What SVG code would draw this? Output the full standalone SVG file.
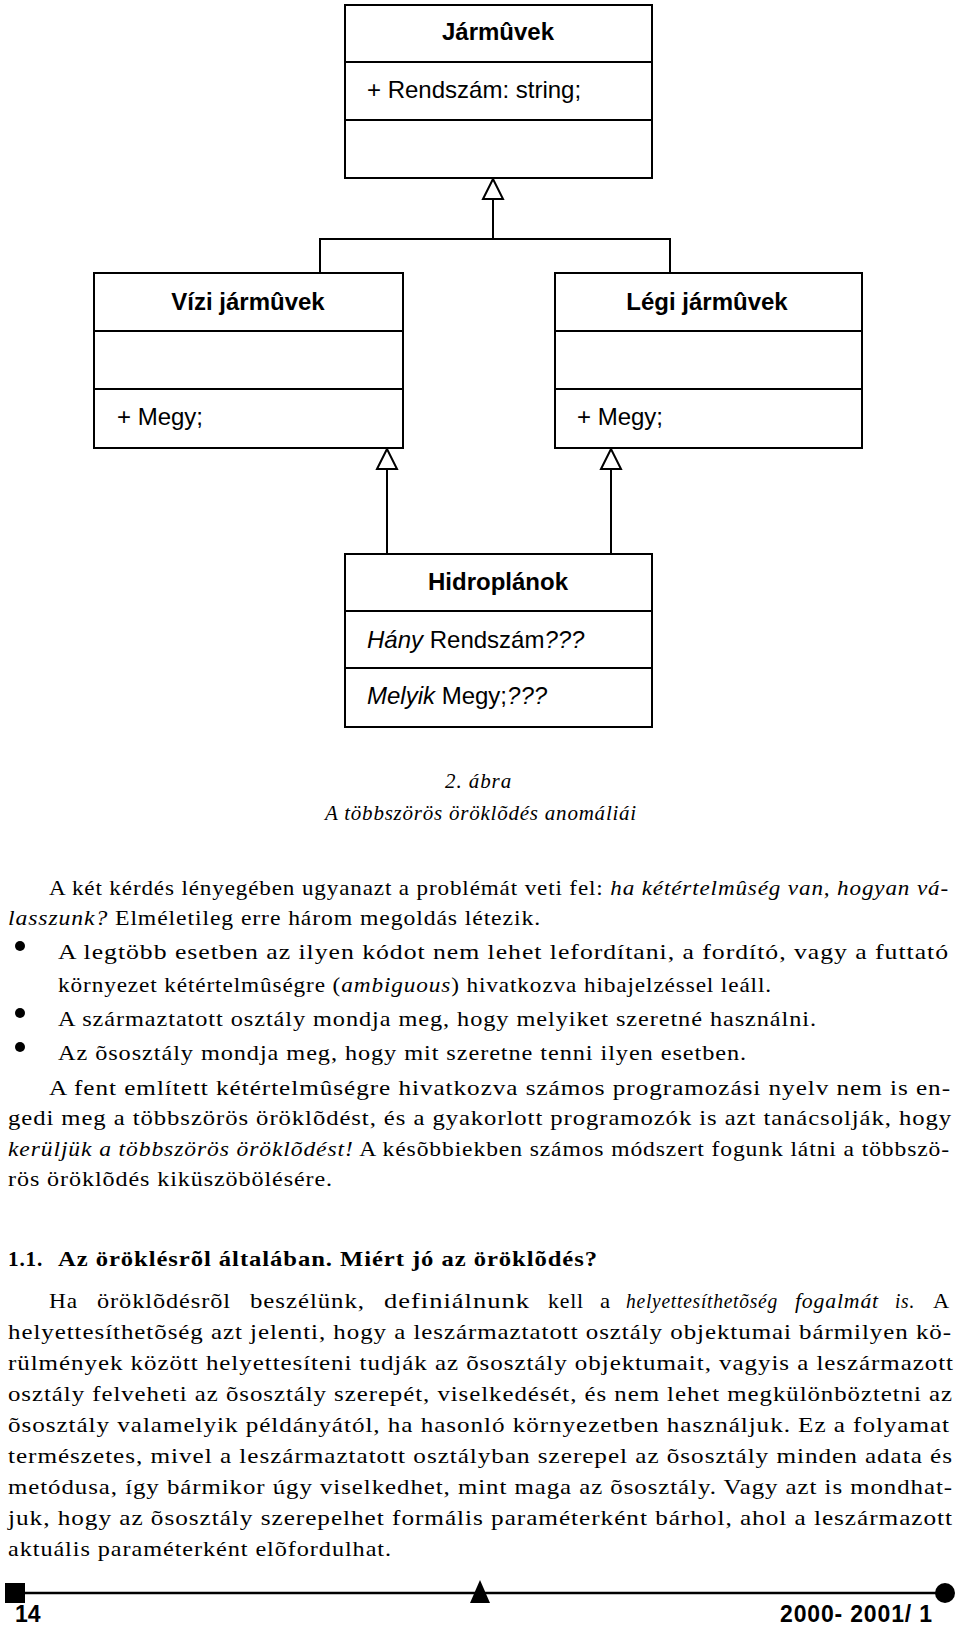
<svg xmlns="http://www.w3.org/2000/svg" width="960" height="1627" viewBox="0 0 960 1627">
<style>
.box{fill:#fff;stroke:#000;stroke-width:2}
.sep{stroke:#000;stroke-width:2}
.t{font-family:"Liberation Sans",Arial,sans-serif;font-size:24px;fill:#000}
.b{font-weight:bold}
.i{font-style:italic}
.con{fill:none;stroke:#000;stroke-width:2}
.body{font-family:"Liberation Serif","Times New Roman",serif;font-size:21px;letter-spacing:0.8px;fill:#000}
.foot{font-family:"Liberation Sans",Arial,sans-serif;font-size:23px;font-weight:bold;fill:#000}
</style>
<defs>
<marker id="inh" markerUnits="userSpaceOnUse" viewBox="-2 -2 24 24" markerWidth="24" markerHeight="24" refX="20" refY="10" orient="auto" overflow="visible">
<path d="M0,0 L20,10 L0,20 Z" fill="#fff" stroke="#000" stroke-width="2"/>
</marker>
</defs>
<rect width="960" height="1627" fill="#fff"/>

<g id="connectors">
<path class="con" d="M320,273 V239 H670 V273"/>
<path class="con" d="M493,239 V179" marker-end="url(#inh)"/>
<path class="con" d="M387,554 V449" marker-end="url(#inh)"/>
<path class="con" d="M611,554 V449" marker-end="url(#inh)"/>
</g>

<g id="jarmuvek">
<rect class="box" x="345" y="5" width="307" height="173"/>
<line class="sep" x1="345" y1="62" x2="652" y2="62"/>
<line class="sep" x1="345" y1="120" x2="652" y2="120"/>
<text class="t b" x="498" y="40" text-anchor="middle">Jármûvek</text>
<text class="t" x="367" y="98">+ Rendszám: string;</text>
</g>

<g id="vizi">
<rect class="box" x="94" y="273" width="309" height="175"/>
<line class="sep" x1="94" y1="331" x2="403" y2="331"/>
<line class="sep" x1="94" y1="389" x2="403" y2="389"/>
<text class="t b" x="248" y="310" text-anchor="middle">Vízi jármûvek</text>
<text class="t" x="117" y="425">+ Megy;</text>
</g>

<g id="legi">
<rect class="box" x="555" y="273" width="307" height="175"/>
<line class="sep" x1="555" y1="331" x2="862" y2="331"/>
<line class="sep" x1="555" y1="389" x2="862" y2="389"/>
<text class="t b" x="707" y="310" text-anchor="middle">Légi jármûvek</text>
<text class="t" x="577" y="425">+ Megy;</text>
</g>

<g id="hidroplanok">
<rect class="box" x="345" y="554" width="307" height="173"/>
<line class="sep" x1="345" y1="611" x2="652" y2="611"/>
<line class="sep" x1="345" y1="668" x2="652" y2="668"/>
<text class="t b" x="498" y="590" text-anchor="middle">Hidroplánok</text>
<text class="t" x="367" y="648"><tspan class="i">Hány</tspan> Rendszám<tspan class="i">???</tspan></text>
<text class="t" x="367" y="704"><tspan class="i">Melyik</tspan> Megy;<tspan class="i">???</tspan></text>
</g>

<g id="caption">
<text class="body i" x="445" y="788" textLength="67" lengthAdjust="spacing">2. ábra</text>
<text class="body i" x="325" y="820" textLength="312" lengthAdjust="spacing">A  többszörös öröklõdés anomáliái</text>
</g>

<g id="text">
<text class="body" x="49" y="895" textLength="900" lengthAdjust="spacingAndGlyphs">A két kérdés lényegében ugyanazt a problémát veti fel: <tspan class="i">ha kétértelmûség van, hogyan vá-</tspan></text>
<text class="body" x="8" y="925" textLength="533" lengthAdjust="spacingAndGlyphs"><tspan class="i">lasszunk?</tspan> Elméletileg erre három megoldás létezik.</text>
<circle cx="20" cy="946" r="5"/>
<text class="body" x="58" y="959" textLength="891" lengthAdjust="spacingAndGlyphs">A legtöbb esetben az ilyen kódot nem lehet lefordítani, a fordító, vagy a futtató</text>
<text class="body" x="58" y="992" textLength="714" lengthAdjust="spacingAndGlyphs">környezet kétértelmûségre (<tspan class="i">ambiguous</tspan>) hivatkozva hibajelzéssel leáll.</text>
<circle cx="20" cy="1013" r="5"/>
<text class="body" x="58" y="1026" textLength="759" lengthAdjust="spacingAndGlyphs">A származtatott osztály mondja meg, hogy melyiket szeretné használni.</text>
<circle cx="20" cy="1047" r="5"/>
<text class="body" x="58" y="1060" textLength="689" lengthAdjust="spacingAndGlyphs">Az õsosztály mondja meg, hogy mit szeretne tenni ilyen esetben.</text>
<text class="body" x="49" y="1095" textLength="902" lengthAdjust="spacingAndGlyphs">A fent említett kétértelmûségre hivatkozva számos programozási nyelv nem is en-</text>
<text class="body" x="8" y="1125" textLength="944" lengthAdjust="spacingAndGlyphs">gedi meg a többszörös öröklõdést, és a gyakorlott programozók is azt tanácsolják, hogy</text>
<text class="body" x="8" y="1156" textLength="942" lengthAdjust="spacingAndGlyphs"><tspan class="i">kerüljük a többszörös öröklõdést!</tspan> A késõbbiekben számos módszert fogunk látni a többszö-</text>
<text class="body" x="8" y="1186" textLength="325" lengthAdjust="spacingAndGlyphs">rös öröklõdés kiküszöbölésére.</text>

<text class="body b" x="8" y="1266" textLength="35" lengthAdjust="spacingAndGlyphs">1.1.</text>
<text class="body b" x="58" y="1266" textLength="540" lengthAdjust="spacingAndGlyphs">Az öröklésrõl általában. Miért jó az öröklõdés?</text>

<text class="body" x="49" y="1308" textLength="29" lengthAdjust="spacingAndGlyphs">Ha</text>
<text class="body" x="97" y="1308" textLength="134" lengthAdjust="spacingAndGlyphs">öröklõdésrõl</text>
<text class="body" x="250" y="1308" textLength="115" lengthAdjust="spacingAndGlyphs">beszélünk,</text>
<text class="body" x="384" y="1308" textLength="146" lengthAdjust="spacingAndGlyphs">definiálnunk</text>
<text class="body" x="548" y="1308" textLength="36" lengthAdjust="spacingAndGlyphs">kell</text>
<text class="body" x="600" y="1308" textLength="11" lengthAdjust="spacingAndGlyphs">a</text>
<text class="body i" x="626" y="1308" textLength="152" lengthAdjust="spacingAndGlyphs">helyettesíthetõség</text>
<text class="body i" x="795" y="1308" textLength="84" lengthAdjust="spacingAndGlyphs">fogalmát</text>
<text class="body i" x="895" y="1308" textLength="20" lengthAdjust="spacingAndGlyphs">is.</text>
<text class="body" x="933" y="1308" textLength="17" lengthAdjust="spacingAndGlyphs">A</text>
<text class="body" x="8" y="1339" textLength="944" lengthAdjust="spacingAndGlyphs">helyettesíthetõség azt jelenti, hogy a leszármaztatott osztály objektumai bármilyen kö-</text>
<text class="body" x="8" y="1370" textLength="946" lengthAdjust="spacingAndGlyphs">rülmények között helyettesíteni tudják az õsosztály objektumait, vagyis a leszármazott</text>
<text class="body" x="8" y="1401" textLength="945" lengthAdjust="spacingAndGlyphs">osztály felveheti az õsosztály szerepét, viselkedését, és nem lehet megkülönböztetni az</text>
<text class="body" x="8" y="1432" textLength="942" lengthAdjust="spacingAndGlyphs">õsosztály valamelyik példányától, ha hasonló környezetben használjuk. Ez a folyamat</text>
<text class="body" x="8" y="1463" textLength="945" lengthAdjust="spacingAndGlyphs">természetes, mivel a leszármaztatott osztályban szerepel az õsosztály minden adata és</text>
<text class="body" x="8" y="1494" textLength="945" lengthAdjust="spacingAndGlyphs">metódusa, így bármikor úgy viselkedhet, mint maga az õsosztály. Vagy azt is mondhat-</text>
<text class="body" x="8" y="1525" textLength="945" lengthAdjust="spacingAndGlyphs">juk, hogy az õsosztály szerepelhet formális paraméterként bárhol, ahol a leszármazott</text>
<text class="body" x="8" y="1556" textLength="384" lengthAdjust="spacingAndGlyphs">aktuális paraméterként elõfordulhat.</text>
</g>

<g id="footer">
<line x1="25" y1="1593" x2="945" y2="1593" stroke="#000" stroke-width="2.5"/>
<rect x="5" y="1583" width="20" height="20" fill="#000"/>
<polygon points="470,1603 480,1580 490,1603" fill="#000"/>
<circle cx="945" cy="1593" r="10" fill="#000"/>
<text class="foot" x="15" y="1622">14</text>
<text class="foot" x="780" y="1622" textLength="152" lengthAdjust="spacing">2000- 2001/ 1</text>
</g>
</svg>
